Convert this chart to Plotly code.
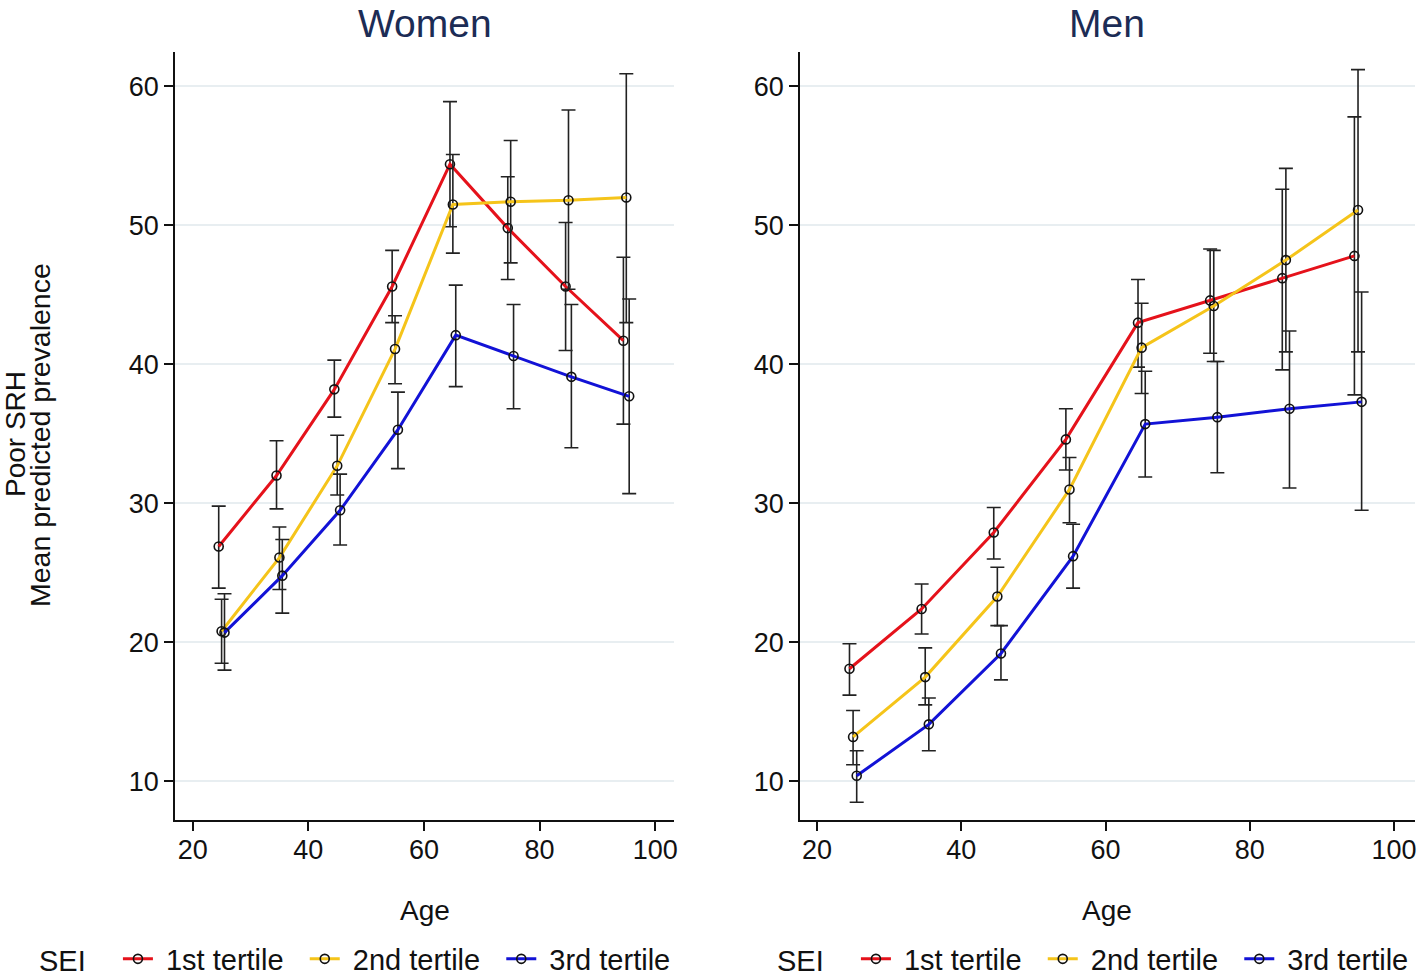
import plotly.graph_objects as go

ages = [25, 35, 45, 55, 65, 75, 85, 95]
tertiles = ["1st tertile", "2nd tertile", "3rd tertile"]

# Women
w_t1_mean = [26.9, 32.0, 38.2, 45.6, 54.4, 49.8, 45.6, 41.7]
w_t1_lo = [23.9, 29.6, 36.2, 43.0, 49.9, 46.1, 41.0, 35.7]
w_t1_hi = [29.8, 34.5, 40.3, 48.2, 58.9, 53.5, 50.2, 47.7]
w_t2_mean = [20.8, 26.1, 32.7, 41.1, 51.5, 51.7, 51.8, 52.0]
w_t2_lo = [18.5, 23.8, 30.6, 38.6, 48.0, 47.3, 45.4, 43.0]
w_t2_hi = [23.1, 28.3, 34.9, 43.5, 55.1, 56.1, 58.3, 60.9]
w_t3_mean = [20.7, 24.8, 29.5, 35.3, 42.1, 40.6, 39.1, 37.7]
w_t3_lo = [18.0, 22.1, 27.0, 32.5, 38.4, 36.8, 34.0, 30.7]
w_t3_hi = [23.5, 27.4, 32.1, 38.0, 45.7, 44.3, 44.3, 44.7]

# Men
m_t1_mean = [18.1, 22.4, 27.9, 34.6, 43.0, 44.6, 46.2, 47.8]
m_t1_lo = [16.2, 20.6, 26.0, 32.4, 39.8, 40.8, 39.6, 37.8]
m_t1_hi = [19.9, 24.2, 29.7, 36.8, 46.1, 48.3, 52.6, 57.8]
m_t2_mean = [13.2, 17.5, 23.3, 31.0, 41.2, 44.2, 47.5, 51.1]
m_t2_lo = [11.2, 15.5, 21.2, 28.6, 37.9, 40.2, 40.9, 40.9]
m_t2_hi = [15.1, 19.6, 25.4, 33.3, 44.4, 48.2, 54.1, 61.2]
m_t3_mean = [10.4, 14.1, 19.2, 26.2, 35.7, 36.2, 36.8, 37.3]
m_t3_lo = [8.5, 12.2, 17.3, 23.9, 31.9, 32.2, 31.1, 29.5]
m_t3_hi = [12.2, 16.0, 21.2, 28.5, 39.5, 40.2, 42.4, 45.2]

x_ticks = [20, 40, 60, 80, 100]
y_ticks = [10, 20, 30, 40, 50, 60]

colors = ["#e5121b", "#f5c41a", "#1212d6"]
dodge = [-0.5, 0.0, 0.5]

MAIN = "Liberation Sans, Arial, Helvetica, sans-serif"
NB = "\u00a0"

fig = go.Figure()

panels = [
    ("x", "y", "legend", [(w_t1_mean, w_t1_lo, w_t1_hi), (w_t2_mean, w_t2_lo, w_t2_hi), (w_t3_mean, w_t3_lo, w_t3_hi)]),
    ("x2", "y2", "legend2", [(m_t1_mean, m_t1_lo, m_t1_hi), (m_t2_mean, m_t2_lo, m_t2_hi), (m_t3_mean, m_t3_lo, m_t3_hi)]),
]

for xa, ya, leg, series in panels:
    for i, (mean, lo, hi) in enumerate(series):
        xs = [a + dodge[i] for a in ages]
        fig.add_trace(go.Scatter(
            x=xs, y=mean, xaxis=xa, yaxis=ya, legend=leg,
            name=NB + tertiles[i] + NB * 2, mode="lines+markers",
            line=dict(color=colors[i], width=3),
            marker=dict(symbol="circle-open", size=9, color="#111111", line=dict(width=1.6)),
            error_y=dict(type="data", symmetric=False,
                         array=[h - m for h, m in zip(hi, mean)],
                         arrayminus=[m - l for m, l in zip(mean, lo)],
                         color="#222222", thickness=1.6, width=7),
        ))

W, H = 1424, 980
def px_x(p):
    return p / W
def px_y(p):
    return 1 - p / H

axis_common = dict(
    showline=True, linecolor="#111111", linewidth=1.8,
    ticks="outside", ticklen=9, tickwidth=1.6, tickcolor="#111111",
    tickfont=dict(family=MAIN, size=27, color="#111111"),
    zeroline=False, automargin=False,
)

legend_common = dict(
    orientation="h", y=px_y(959), xanchor="left", yanchor="middle",
    font=dict(family=MAIN, size=29, color="#111111"),
    title=dict(text="SEI" + NB * 3, side="left", font=dict(family=MAIN, size=29, color="#111111")),
    bgcolor="rgba(0,0,0,0)", itemwidth=30,
)

fig.update_layout(
    width=W, height=H,
    margin=dict(l=0, r=0, t=0, b=0, autoexpand=False),
    paper_bgcolor="white", plot_bgcolor="white",
    showlegend=True,
    xaxis=dict(domain=[px_x(175), px_x(674)], range=[16.94, 103.25], tickvals=x_ticks,
               showgrid=False, anchor="y", ticklabelstandoff=-4, **axis_common),
    yaxis=dict(domain=[px_y(820), px_y(52)], range=[7.22, 62.47], tickvals=y_ticks,
               showgrid=True, gridcolor="#e8eef1", gridwidth=2, anchor="x", **axis_common),
    xaxis2=dict(domain=[px_x(800), px_x(1415)], range=[17.64, 102.9], tickvals=x_ticks,
                showgrid=False, anchor="y2", ticklabelstandoff=-4, **axis_common),
    yaxis2=dict(domain=[px_y(820), px_y(52)], range=[7.22, 62.47], tickvals=y_ticks,
                showgrid=True, gridcolor="#e8eef1", gridwidth=2, anchor="x2", **axis_common),
    legend=dict(x=px_x(37), **legend_common),
    legend2=dict(x=px_x(775), **legend_common),
)

annotations = [
    dict(text="Women", x=px_x(424.5), y=px_y(24), xref="paper", yref="paper",
         showarrow=False, xanchor="center", yanchor="middle",
         font=dict(family=MAIN, size=39, color="#1c2c55")),
    dict(text="Men", x=px_x(1107), y=px_y(24), xref="paper", yref="paper",
         showarrow=False, xanchor="center", yanchor="middle",
         font=dict(family=MAIN, size=39, color="#1c2c55")),
    dict(text="Age", x=px_x(424.5), y=px_y(910), xref="paper", yref="paper",
         showarrow=False, xanchor="center", yanchor="middle",
         font=dict(family=MAIN, size=28, color="#111111")),
    dict(text="Age", x=px_x(1107), y=px_y(910), xref="paper", yref="paper",
         showarrow=False, xanchor="center", yanchor="middle",
         font=dict(family=MAIN, size=28, color="#111111")),
    dict(text="Poor SRH", x=px_x(15), y=px_y(434),
         xref="paper", yref="paper", showarrow=False, textangle=-90,
         xanchor="center", yanchor="middle",
         font=dict(family=MAIN, size=28, color="#111111")),
    dict(text="Mean predicted prevalence", x=px_x(40), y=px_y(435),
         xref="paper", yref="paper", showarrow=False, textangle=-90,
         xanchor="center", yanchor="middle",
         font=dict(family=MAIN, size=28.5, color="#111111")),
]
fig.update_layout(annotations=annotations)

fig.write_html("out.html", config={"displayModeBar": False},
               post_script="document.body.style.margin='0';document.body.style.overflow='hidden';")
